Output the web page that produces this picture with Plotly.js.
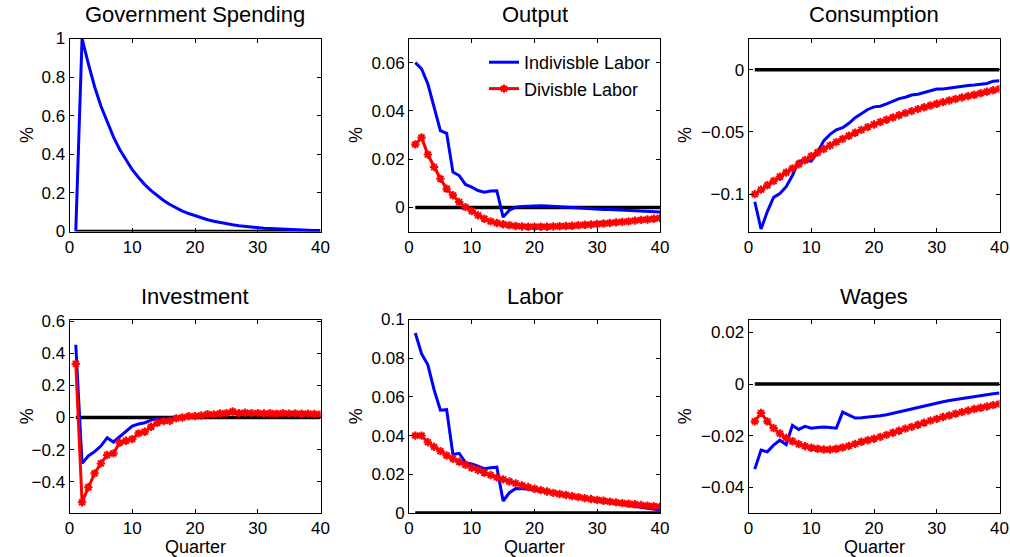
<!DOCTYPE html>
<html>
<head>
<meta charset="utf-8">
<script src="https://cdn.plot.ly/plotly-3.0.1.min.js"></script>
<style>
  html, body { margin: 0; padding: 0; background: #fff; }
  #chart { width: 1010px; height: 557px; }
</style>
</head>
<body>
<div id="chart"></div>
<script>
// Impulse responses to a government spending shock, quarters 1..40
const quarters = Array.from({length: 40}, (_, i) => i + 1);

const govSpending = [0, 1.00, 0.87, 0.75, 0.65, 0.565, 0.49, 0.425, 0.37, 0.32,
  0.28, 0.243, 0.212, 0.185, 0.161, 0.14, 0.122, 0.106, 0.093, 0.081,
  0.07, 0.061, 0.053, 0.046, 0.04, 0.035, 0.03, 0.026, 0.023, 0.02,
  0.017, 0.015, 0.013, 0.011, 0.01, 0.0085, 0.0074, 0.0064, 0.0056, 0.0049];

const outputIndiv = [0.060, 0.0574, 0.0512, 0.041, 0.0318, 0.0307, 0.0146, 0.0132, 0.0095, 0.0084,
  0.0070, 0.0063, 0.0068, 0.0069, -0.0040, -0.0012, 0.0001, 0.0004, 0.0006, 0.0007,
  0.0007, 0.0006, 0.0004, 0.0002, 0.0000, -0.0002, -0.0003, -0.0005, -0.0006, -0.0008,
  -0.0009, -0.0009, -0.0010, -0.0011, -0.0012, -0.0013, -0.0015, -0.0016, -0.0018, -0.0019];
const outputDiv = [0.0261, 0.0290, 0.0219, 0.0167, 0.0119, 0.0077, 0.0050, 0.0022, 0.0001, -0.0015,
  -0.0033, -0.0047, -0.0058, -0.0065, -0.0070, -0.0074, -0.0077, -0.0079, -0.0080, -0.0080,
  -0.0080, -0.0080, -0.0079, -0.0078, -0.0077, -0.0076, -0.0074, -0.0072, -0.0071, -0.0069,
  -0.0067, -0.0065, -0.0062, -0.0060, -0.0058, -0.0055, -0.0052, -0.0050, -0.0047, -0.0044];

const consIndiv = [-0.1061, -0.128, -0.114, -0.1026, -0.0995, -0.094, -0.085, -0.0735, -0.073, -0.0735,
  -0.0664, -0.057, -0.052, -0.0484, -0.0466, -0.0431, -0.0386, -0.0352, -0.032, -0.0299,
  -0.0294, -0.0275, -0.0254, -0.0233, -0.0222, -0.0204, -0.0198, -0.0183, -0.0167, -0.0156,
  -0.0156, -0.0148, -0.014, -0.0132, -0.0127, -0.0124, -0.0119, -0.0111, -0.0093, -0.009];
const consDiv = [-0.1000, -0.0964, -0.0929, -0.0894, -0.0860, -0.0826, -0.0793, -0.0760, -0.0728, -0.0696,
  -0.0666, -0.0637, -0.0609, -0.0582, -0.0556, -0.0531, -0.0507, -0.0484, -0.0462, -0.0441,
  -0.0421, -0.0402, -0.0384, -0.0366, -0.0349, -0.0333, -0.0317, -0.0302, -0.0288, -0.0274,
  -0.0261, -0.0248, -0.0236, -0.0224, -0.0213, -0.0202, -0.0190, -0.0177, -0.0166, -0.0155];

const invIndiv = [0.453, -0.286, -0.24, -0.213, -0.178, -0.126, -0.153, -0.12, -0.089, -0.054,
  -0.041, -0.033, -0.017, -0.006, -0.02, -0.006, 0.0, 0.004, 0.005, 0.006,
  0.01, 0.013, 0.016, 0.018, 0.02, 0.028, 0.022, 0.021, 0.021, 0.02,
  0.02, 0.019, 0.019, 0.018, 0.018, 0.017, 0.017, 0.016, 0.016, 0.015];
const invDiv = [0.335, -0.528, -0.435, -0.348, -0.286, -0.234, -0.224, -0.157, -0.145, -0.135,
  -0.099, -0.089, -0.058, -0.033, -0.023, -0.021, -0.006, 0.0, 0.008, 0.008,
  0.012, 0.02, 0.019, 0.025, 0.027, 0.037, 0.027, 0.029, 0.026, 0.027,
  0.025, 0.026, 0.024, 0.027, 0.024, 0.025, 0.023, 0.024, 0.022, 0.021];

const laborIndiv = [0.093, 0.0823, 0.0766, 0.0637, 0.0531, 0.0534, 0.0302, 0.0308, 0.026, 0.0254,
  0.0242, 0.0229, 0.0234, 0.0237, 0.0062, 0.0105, 0.0127, 0.0127, 0.0124, 0.0119,
  0.0114, 0.0109, 0.0104, 0.0099, 0.0093, 0.0087, 0.0081, 0.0075, 0.0068, 0.0062,
  0.0058, 0.0053, 0.0049, 0.0044, 0.0040, 0.0035, 0.0030, 0.0025, 0.0020, 0.0015];
const laborDiv = [0.040, 0.040, 0.0366, 0.0342, 0.032, 0.0297, 0.028, 0.0265, 0.0249, 0.0234,
  0.0222, 0.0208, 0.0196, 0.0184, 0.0174, 0.0163, 0.0153, 0.0143, 0.0134, 0.0125,
  0.0118, 0.0111, 0.0104, 0.0098, 0.0093, 0.0087, 0.0082, 0.0077, 0.0072, 0.0067,
  0.0063, 0.0059, 0.0055, 0.0051, 0.0048, 0.0045, 0.0041, 0.0038, 0.0035, 0.0033];

const wageIndiv = [-0.033, -0.0256, -0.0263, -0.0237, -0.0218, -0.0235, -0.016, -0.0176, -0.0164, -0.0171,
  -0.0169, -0.0167, -0.0169, -0.0171, -0.0109, -0.0122, -0.0132, -0.0131, -0.0129, -0.0126,
  -0.0123, -0.0119, -0.0114, -0.0109, -0.0103, -0.0097, -0.0091, -0.0085, -0.0079, -0.0073,
  -0.0069, -0.0064, -0.006, -0.0055, -0.0051, -0.0048, -0.0044, -0.0041, -0.0038, -0.0035];
const wageDiv = [-0.0145, -0.0112, -0.0145, -0.0171, -0.0192, -0.0209, -0.0222, -0.0233, -0.0241, -0.0247,
  -0.0251, -0.0254, -0.0254, -0.0251, -0.0246, -0.024, -0.0232, -0.0224, -0.0218, -0.0212,
  -0.0205, -0.0197, -0.0189, -0.0181, -0.0173, -0.0166, -0.0158, -0.015, -0.0142, -0.0135,
  -0.0128, -0.0122, -0.0115, -0.0109, -0.0103, -0.0097, -0.0092, -0.0087, -0.0082, -0.0077];

const zeroLine = [0, 0];
const xTicks = [0, 10, 20, 30, 40];

const panelTitles = ['Government Spending', 'Output', 'Consumption', 'Investment', 'Labor', 'Wages'];
const seriesNames = ['Indivisble Labor', 'Divisble Labor'];

const panels = [
  {indiv: govSpending, div: null,      yrange: [0, 1],          dtick: 0.2},
  {indiv: outputIndiv, div: outputDiv, yrange: [-0.01, 0.07],   dtick: 0.02},
  {indiv: consIndiv,   div: consDiv,   yrange: [-0.13, 0.025],  dtick: 0.05},
  {indiv: invIndiv,    div: invDiv,    yrange: [-0.595, 0.61],  dtick: 0.2},
  {indiv: laborIndiv,  div: laborDiv,  yrange: [0, 0.1],        dtick: 0.02},
  {indiv: wageIndiv,   div: wageDiv,   yrange: [-0.05, 0.025],  dtick: 0.02}
];

const W = 1010, H = 557;
const colsPx = [[69.5, 320.5], [409, 660], [748.5, 999.5]];
const rowsPx = [[38.5, 231.5], [319.5, 513]];

const FONT = '"Liberation Sans", Arial, Helvetica, sans-serif';
const BLUE = '#0000ff', RED = '#ff0000';

const traces = [];
const layout = {
  width: W, height: H,
  margin: {l: 0, r: 0, t: 0, b: 0},
  paper_bgcolor: '#fff', plot_bgcolor: '#fff',
  font: {family: FONT, size: 17, color: '#000'},
  showlegend: true,
  legend: {
    x: 484 / W, y: 1 - 44 / H, xanchor: 'left', yanchor: 'top',
    bgcolor: 'rgba(0,0,0,0)', borderwidth: 0,
    font: {family: FONT, size: 18, color: '#000'},
    tracegroupgap: 0, itemwidth: 30
  },
  annotations: []
};

panels.forEach((p, i) => {
  const n = i + 1;
  const row = Math.floor(i / 3), col = i % 3;
  const xs = n === 1 ? 'x' : 'x' + n, ys = n === 1 ? 'y' : 'y' + n;
  const xk = n === 1 ? 'xaxis' : 'xaxis' + n, yk = n === 1 ? 'yaxis' : 'yaxis' + n;
  const [x0, x1] = colsPx[col], [yt, yb] = rowsPx[row];

  const axisCommon = {
    showgrid: false, zeroline: false,
    showline: true, mirror: 'ticks', linecolor: '#000', linewidth: 1,
    ticks: 'inside', ticklen: 4, tickwidth: 1, tickcolor: '#000',
    tickfont: {family: FONT, size: 17, color: '#000'},
    fixedrange: true
  };
  layout[xk] = Object.assign({}, axisCommon, {
    domain: [x0 / W, x1 / W], anchor: ys, range: [0, 40],
    tickmode: 'array', tickvals: xTicks
  });
  layout[yk] = Object.assign({}, axisCommon, {
    domain: [1 - yb / H, 1 - yt / H], anchor: xs, range: p.yrange,
    tickmode: 'linear', tick0: 0, dtick: p.dtick
  });

  traces.push({
    x: [quarters[0], quarters[quarters.length - 1]], y: zeroLine,
    xaxis: xs, yaxis: ys, mode: 'lines', showlegend: false, hoverinfo: 'skip',
    line: {color: '#000', width: 3.5}
  });
  traces.push({
    x: quarters, y: p.indiv, xaxis: xs, yaxis: ys, mode: 'lines',
    name: seriesNames[0], showlegend: n === 2,
    line: {color: BLUE, width: 3}
  });
  if (p.div) {
    traces.push({
      x: quarters, y: p.div, xaxis: xs, yaxis: ys, mode: 'lines+markers',
      name: seriesNames[1], showlegend: n === 2,
      line: {color: RED, width: 3},
      marker: {symbol: 'asterisk-open', size: 7, color: RED, line: {color: RED, width: 2}}
    });
  }

  const cx = (x0 + x1) / 2 / W;
  layout.annotations.push({
    text: panelTitles[i], xref: 'paper', yref: 'paper',
    x: cx, y: 1 - (row === 0 ? 15 : 296) / H, xanchor: 'center', yanchor: 'middle',
    showarrow: false, font: {family: FONT, size: 22, color: '#000'}
  });
  layout.annotations.push({
    text: '%', xref: 'paper', yref: 'paper', textangle: -90,
    x: [27, 356, 685][col] / W, y: 1 - (yt + yb) / 2 / H, xanchor: 'center', yanchor: 'middle',
    showarrow: false, font: {family: FONT, size: 18, color: '#000'}
  });
  if (row === 1) {
    layout.annotations.push({
      text: 'Quarter', xref: 'paper', yref: 'paper',
      x: cx, y: 1 - 547 / H, xanchor: 'center', yanchor: 'middle', borderpad: 0,
      showarrow: false, font: {family: FONT, size: 18, color: '#000'}
    });
  }
});

Plotly.newPlot('chart', traces, layout, {staticPlot: true, displayModeBar: false});
</script>
</body>
</html>
